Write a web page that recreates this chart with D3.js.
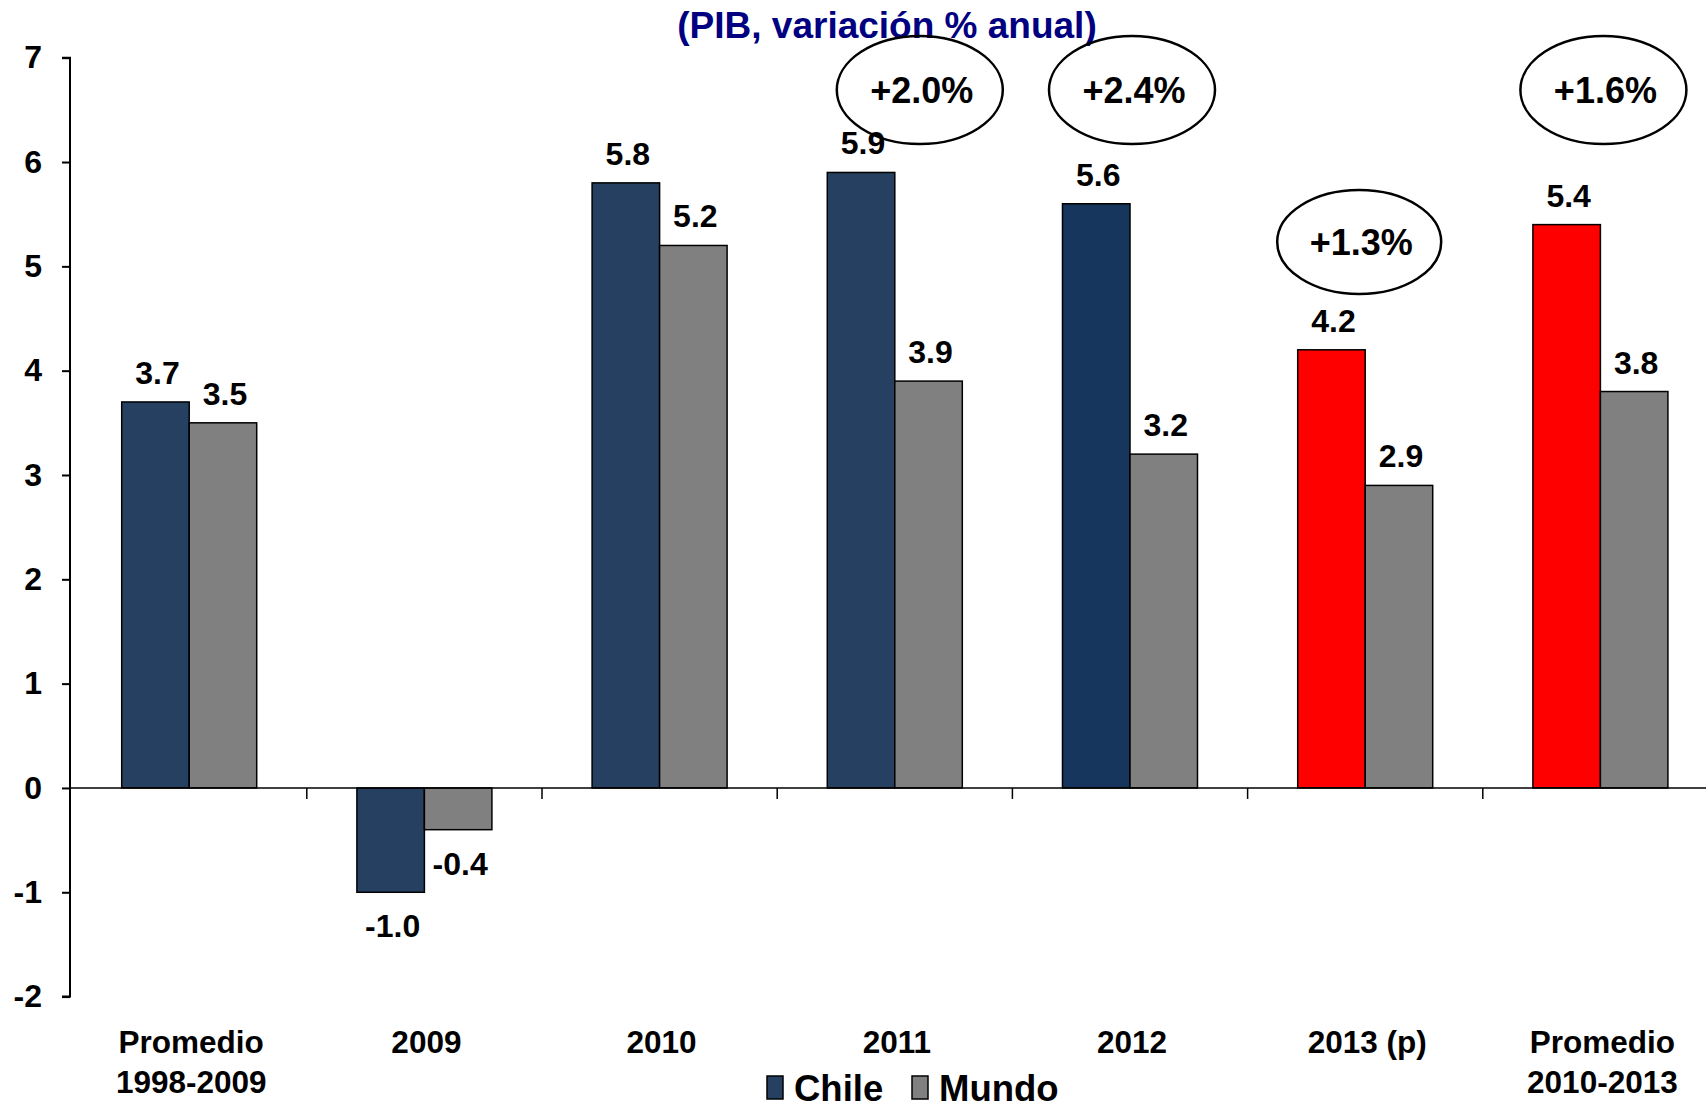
<!DOCTYPE html>
<html>
<head>
<meta charset="utf-8">
<script src="https://cdn.jsdelivr.net/npm/d3@7"></script>
<style>
  body { margin: 0; background: #fff; }
  text { font-family: 'Liberation Sans', Arial, sans-serif; font-weight: bold; }
</style>
</head>
<body>
<script>
// Data
const categories = ['Promedio\n1998-2009', '2009', '2010', '2011', '2012', '2013 (p)', 'Promedio\n2010-2013'];
const chile = [3.7, -1.0, 5.8, 5.9, 5.6, 4.2, 5.4];
const mundo = [3.5, -0.4, 5.2, 3.9, 3.2, 2.9, 3.8];
const yTicks = [-2, -1, 0, 1, 2, 3, 4, 5, 6, 7];
const diffCategories = ['2011', '2012', '2013 (p)', 'Promedio\n2010-2013'];
const diffLabels = ['+2.0%', '+2.4%', '+1.3%', '+1.6%'];
const seriesNames = ['Chile', 'Mundo'];

// Width and height
const w = 1706;
const h = 1107;

const svg = d3.select('body').append('svg').attr('width', w).attr('height', h);

// Hyphen as minus sign, like the original
const fmt = d3.formatLocale({ decimal: '.', thousands: ',', grouping: [3], currency: ['', ''], minus: '-' });
const fmt1 = fmt.format('.1f');
const fmtInt = fmt.format('d');

// Scales
const y = d3.scaleLinear().domain([-2, 7]).range([996.6, 57.7]);
const x = d3.scaleBand().domain(categories).range([71.6, 1718]);
const groupW = 135;
const x1 = d3.scaleBand().domain(['chile', 'mundo']).range([0, groupW]);
const off = (x.bandwidth() - groupW) / 2;

// Chile colours: red for the projected / recent average, darker blue in 2012
const redCats = new Set(['2013 (p)', 'Promedio\n2010-2013']);
const chileFill = c => (redCats.has(c) ? '#ff0000' : c === '2012' ? '#17365d' : '#254061');
const mundoFill = '#808080';

// Title
svg.append('text')
  .attr('x', 887).attr('y', 38)
  .attr('text-anchor', 'middle')
  .style('font-size', '37px')
  .attr('fill', '#000080')
  .text('(PIB, variación % anual)');

// Bars
const rows = categories.map((c, i) => ({ c, chile: chile[i], mundo: mundo[i] }));
const groups = svg.selectAll('g.grp').data(rows).enter().append('g')
  .attr('class', 'grp')
  .attr('transform', d => `translate(${x(d.c) + off},0)`);

['chile', 'mundo'].forEach(k => {
  groups.append('rect')
    .attr('x', x1(k))
    .attr('width', x1.bandwidth())
    .attr('y', d => y(Math.max(0, d[k])))
    .attr('height', d => Math.abs(y(d[k]) - y(0)))
    .attr('fill', d => (k === 'chile' ? chileFill(d.c) : mundoFill))
    .attr('stroke', '#000')
    .attr('stroke-width', 1.5);

  groups.append('text')
    .attr('x', x1(k) + x1.bandwidth() / 2 + 2)
    .attr('y', d => (d[k] >= 0 ? y(d[k]) - 18 : y(d[k]) + 45))
    .attr('text-anchor', 'middle')
    .style('font-size', '32px')
    .text(d => fmt1(d[k]));
});

// Y axis
const yAxis = d3.axisLeft(y).tickValues(yTicks).tickSize(8).tickPadding(20).tickFormat(fmtInt);
const gy = svg.append('g').attr('transform', 'translate(70,0)').call(yAxis);
gy.select('.domain').attr('stroke-width', 2).attr('d', `M-8,${y(7)}H0V${y(-2)}H-8`);
gy.selectAll('.tick line').attr('stroke-width', 2);
gy.selectAll('.tick text')
  .style('font-size', '32px')
  .style('font-family', "'Liberation Sans', Arial, sans-serif")
  .attr('fill', '#000');

// X axis along zero
svg.append('line')
  .attr('x1', 70).attr('x2', w)
  .attr('y1', y(0)).attr('y2', y(0))
  .attr('stroke', '#000').attr('stroke-width', 1.5);
svg.selectAll('line.xtick').data(categories.slice(1)).enter().append('line')
  .attr('class', 'xtick')
  .attr('x1', d => x(d)).attr('x2', d => x(d))
  .attr('y1', y(0)).attr('y2', y(0) + 11)
  .attr('stroke', '#000').attr('stroke-width', 1.5);

// Category labels
const cl = svg.selectAll('text.cat').data(categories).enter().append('text')
  .attr('class', 'cat')
  .attr('text-anchor', 'middle')
  .attr('x', d => x(d) + x.bandwidth() / 2 + 2)
  .attr('y', 1053)
  .style('font-size', '31.5px');
cl.selectAll('tspan').data(d => d.split('\n')).enter().append('tspan')
  .attr('x', function () { return d3.select(this.parentNode).attr('x'); })
  .attr('dy', (d, i) => (i === 0 ? 0 : 40))
  .text(d => d);

// Difference annotations (ellipses)
const annDx = [25, 2, -6, 3];
const annY = [90, 90, 242, 90];
diffCategories.forEach((c, i) => {
  const cx = x(c) + x.bandwidth() / 2 + annDx[i];
  const low = c === '2013 (p)';
  svg.append('ellipse')
    .attr('cx', cx).attr('cy', annY[i])
    .attr('rx', low ? 82 : 83).attr('ry', low ? 52 : 54)
    .attr('fill', 'none').attr('stroke', '#000').attr('stroke-width', 2.5);
  svg.append('text')
    .attr('x', cx + 2).attr('y', annY[i] + 13)
    .attr('text-anchor', 'middle')
    .style('font-size', '36px')
    .text(diffLabels[i]);
});

// Legend
const legendX = [767, 912];
const legend = svg.selectAll('g.leg').data(seriesNames).enter().append('g')
  .attr('class', 'leg')
  .attr('transform', (d, i) => `translate(${legendX[i]},1076)`);
legend.append('rect')
  .attr('width', 16).attr('height', 23)
  .attr('fill', (d, i) => (i === 0 ? '#254061' : mundoFill))
  .attr('stroke', '#000').attr('stroke-width', 1.5);
legend.append('text')
  .attr('x', 27).attr('y', 25)
  .style('font-size', '36.5px')
  .text(d => d);
</script>
</body>
</html>
